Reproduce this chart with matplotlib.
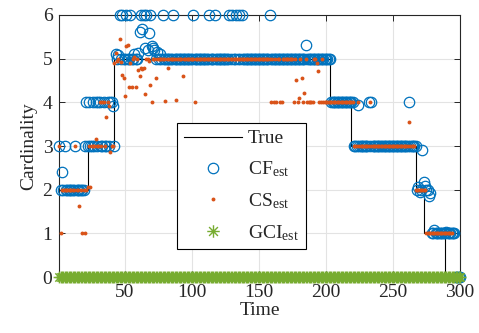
import numpy as np
import matplotlib
matplotlib.use("Agg")
import matplotlib.pyplot as plt
import matplotlib.path as mpath
from matplotlib.lines import Line2D

plt.rcParams['font.family'] = ['Liberation Serif', 'DejaVu Serif']
plt.rcParams['mathtext.fontset'] = 'custom'
plt.rcParams['mathtext.rm'] = 'Liberation Serif'
plt.rcParams['mathtext.it'] = 'Liberation Serif:italic'

# ---------------- data ----------------
time = np.arange(1, 301)

true_t = [1, 22, 42, 203, 219, 267, 273, 289, 300]
true_v = [2, 3, 5, 4, 3, 2, 1, 0, 0]

cf_est = [
    3, 2, 2.4, 2, 3, 2, 2, 2, 2, 2,
    2, 2, 3, 2, 2, 2, 2, 2, 2, 3,
    4, 3, 4, 3, 3, 4, 3, 4, 3, 4,
    4, 3, 3, 4, 3, 3, 4, 3, 4, 4,
    3.92, 3, 5.1, 5, 5.08, 6, 5, 6, 5, 5,
    6, 5, 5, 6, 5, 5, 5.1, 5, 5, 5.13,
    5.62, 6, 5.67, 6, 5.25, 6, 5.2, 5.58, 6, 5.3,
    5.25, 5.2, 5, 5.15, 5, 5.1, 5, 6, 5, 5,
    5, 5, 5, 5, 5, 6, 5, 5, 5, 5,
    5, 5, 5, 5, 5, 5, 5, 5, 5, 5,
    6, 5, 5, 5, 5, 5, 5, 5, 5, 5,
    5, 5, 6, 5, 5, 5, 6, 5, 5, 5,
    5, 5, 5, 5, 5, 5, 5, 6, 5, 6,
    5, 5, 6, 5, 6, 5, 6, 5, 5, 5,
    5, 5, 5, 5, 5, 5, 5, 5, 5, 5,
    5, 5, 5, 5, 5, 5, 5, 6, 5, 5,
    5, 5, 5, 5, 5, 5, 5, 5, 5, 5,
    5, 5, 5, 5, 5, 5, 5, 5, 5, 5,
    5, 5, 5, 5, 5.31, 5, 5, 5, 5, 5,
    5, 5, 5, 5, 5, 5, 5, 5, 5, 5,
    5, 5, 5, 4, 4, 4, 4, 4, 4, 4,
    4, 4, 4, 4, 4, 4, 4, 4, 4, 4,
    3, 3, 3, 3.95, 3, 3, 3, 3, 3, 3,
    3, 4, 3, 4, 3, 3, 3, 3, 3, 3,
    3, 3, 3, 3, 3, 3, 3, 3, 3, 3,
    3, 3, 3, 3, 3, 3, 3, 3, 3, 3,
    3, 4, 3, 3, 3, 3, 3, 2, 2.07, 1.95,
    2, 2.92, 2.18, 2.08, 2, 1.99, 1.85, 1.92, 1, 1,
    1.08, 1, 1, 1, 1, 1, 1, 1, 1, 1.03,
    1, 1, 1, 1, 1, 1, 0, 0, 0, 0,
]

cs_est = [
    3, 1, 2, 2, 2, 2, 2, 2, 2, 2,
    2, 2, 3, 2, 2, 1.63, 2, 1, 2, 1,
    2, 2.07, 3, 2.07, 3, 3, 3, 3.15, 3, 3,
    4, 3, 4, 4, 3, 3.67, 4, 3.92, 2.87, 3,
    3, 4.89, 5.12, 4.95, 5, 5.45, 4.92, 4.62, 4.55, 4.14,
    5.3, 5.31, 4.36, 4.89, 4.34, 5, 5.04, 4.36, 5, 4.74,
    4.61, 4.78, 4.76, 4.79, 4.18, 5, 5, 4.95, 4.4, 4.01,
    5, 5, 4.56, 5, 5, 5, 5, 5, 5, 4.03,
    5, 4.78, 5, 5, 5, 5, 5, 4.05, 5, 5,
    5, 5, 4.61, 5, 5, 5, 5, 5, 5, 5,
    5, 4.01, 5, 5, 5, 5, 5, 5, 5, 5,
    5, 5, 5, 5, 5, 5, 5, 5, 5, 5,
    5, 5, 5, 5, 5, 5, 5, 5, 5, 5,
    5, 5, 5, 5, 5, 5, 5, 5, 5, 5,
    5, 5, 5, 5, 5, 5, 5, 5, 5, 5,
    5, 5, 5, 5, 5, 5, 5, 5, 4, 5,
    4, 5, 4, 5, 5, 4, 4, 5, 5, 5,
    5, 5, 5, 5, 5, 4, 5, 4.51, 4, 4.09,
    5, 4.56, 4, 4.22, 5, 4, 4, 4, 4, 4,
    5, 5, 4.89, 4.72, 4, 4, 5, 4, 4, 4,
    4, 4, 4, 4, 4, 4, 4, 4, 4, 4,
    4, 4, 4, 4, 4, 4, 4, 4, 4, 4,
    3, 3, 3, 4, 3, 3, 3, 3, 3, 3,
    3, 3, 4, 3, 3, 3, 3, 3, 3, 3,
    3, 3, 3, 3, 3, 3, 3, 3, 3, 3,
    3, 3, 3, 3, 3, 3, 3, 3, 3, 3,
    3, 3.56, 3, 3, 3, 3, 2, 2, 2, 2,
    2, 2, 2, 2, 1, 1, 1, 1, 1, 1,
    1, 1, 1, 1, 1, 1, 1, 1, 1, 1,
    1, 1, 1, 1, 0, 0, 0, 0, 0, 0,
]

gci_est = [
    0, 0, 0, 0, 0, 0, 0, 0, 0, 0, 0, 0, 0, 0, 0, 0, 0, 0, 0, 0,
    0, 0, 0, 0, 0, 0, 0, 0, 0, 0, 0, 0, 0, 0, 0, 0, 0, 0, 0, 0,
    0, 0, 0, 0, 0, 0, 0, 0, 0, 0, 0, 0, 0, 0, 0, 0, 0, 0, 0, 0,
    0, 0, 0, 0, 0, 0, 0, 0, 0, 0, 0, 0, 0, 0, 0, 0, 0, 0, 0, 0,
    0, 0, 0, 0, 0, 0, 0, 0, 0, 0, 0, 0, 0, 0, 0, 0, 0, 0, 0, 0,
    0, 0, 0, 0, 0, 0, 0, 0, 0, 0, 0, 0, 0, 0, 0, 0, 0, 0, 0, 0,
    0, 0, 0, 0, 0, 0, 0, 0, 0, 0, 0, 0, 0, 0, 0, 0, 0, 0, 0, 0,
    0, 0, 0, 0, 0, 0, 0, 0, 0, 0, 0, 0, 0, 0, 0, 0, 0, 0, 0, 0,
    0, 0, 0, 0, 0, 0, 0, 0, 0, 0, 0, 0, 0, 0, 0, 0, 0, 0, 0, 0,
    0, 0, 0, 0, 0, 0, 0, 0, 0, 0, 0, 0, 0, 0, 0, 0, 0, 0, 0, 0,
    0, 0, 0, 0, 0, 0, 0, 0, 0, 0, 0, 0, 0, 0, 0, 0, 0, 0, 0, 0,
    0, 0, 0, 0, 0, 0, 0, 0, 0, 0, 0, 0, 0, 0, 0, 0, 0, 0, 0, 0,
    0, 0, 0, 0, 0, 0, 0, 0, 0, 0, 0, 0, 0, 0, 0, 0, 0, 0, 0, 0,
    0, 0, 0, 0, 0, 0, 0, 0, 0, 0, 0, 0, 0, 0, 0, 0, 0, 0, 0, 0,
    0, 0, 0, 0, 0, 0, 0, 0, 0, 0, 0, 0, 0, 0, 0, 0, 0, 0, 0, 0,
]

xticks = [50, 100, 150, 200, 250, 300]
yticks = [0, 1, 2, 3, 4, 5, 6]
legend_labels = ['True', 'CF$_{\\rm est}$', 'CS$_{\\rm est}$', 'GCI$_{\\rm est}$']

# ---------------- style ----------------
BLUE = '#0072BD'
ORANGE = '#D95319'
GREEN = '#77AC30'
AX = '#262626'

ast = mpath.Path(
    [(-1, 0), (1, 0), (0, -1), (0, 1),
     (-0.707, -0.707), (0.707, 0.707), (-0.707, 0.707), (0.707, -0.707)],
    [mpath.Path.MOVETO, mpath.Path.LINETO] * 4)

fig = plt.figure(figsize=(4.79, 3.33), dpi=100)
ax = fig.add_axes([0.124, 0.168, 0.836, 0.787])

ax.step(true_t, true_v, where='post', color='k', lw=0.8, zorder=2)
ax.plot(time, cf_est, ls='none', marker='o', mfc='none', mec=BLUE,
        ms=7.5, mew=0.9, clip_on=False, zorder=3)
ax.plot(time, cs_est, ls='none', marker='o', mfc=ORANGE, mec='none',
        ms=2.8, clip_on=False, zorder=4)
ax.plot(time, gci_est, ls='none', marker=ast, mfc='none', mec=GREEN,
        ms=8.5, mew=1.1, clip_on=False, zorder=5)

ax.set_xlim(1, 300)
ax.set_ylim(0, 6)
ax.set_xticks(xticks)
ax.set_yticks(yticks)
ax.grid(True, color='#e3e3e3', lw=0.8)
ax.set_axisbelow(True)
ax.tick_params(direction='in', length=4, width=0.7, top=True, right=True,
               colors=AX, labelsize=14, pad=5)
for s in ax.spines.values():
    s.set_color(AX)
    s.set_linewidth(0.8)
ax.set_xlabel('Time', fontsize=14, color=AX, labelpad=1)
ax.set_ylabel('Cardinality', fontsize=14, color=AX, labelpad=4)

handles = [
    Line2D([], [], color='k', lw=0.8),
    Line2D([], [], ls='none', marker='o', mfc='none', mec=BLUE, ms=7.5, mew=0.9),
    Line2D([], [], ls='none', marker='o', mfc=ORANGE, mec='none', ms=2.8),
    Line2D([], [], ls='none', marker=ast, mfc='none', mec=GREEN, ms=9, mew=1.0),
]
leg = ax.legend(handles, legend_labels, loc='upper left',
                bbox_to_anchor=(0.2936, 0.588), borderaxespad=0,
                fontsize=14, handlelength=3.0, handletextpad=0.3,
                borderpad=0.35, labelspacing=0.62, fancybox=False,
                framealpha=1, edgecolor='k', numpoints=1)
leg.get_frame().set_linewidth(0.8)
for tx in leg.get_texts():
    tx.set_color(AX)

fig.savefig('out.png', dpi=100)
